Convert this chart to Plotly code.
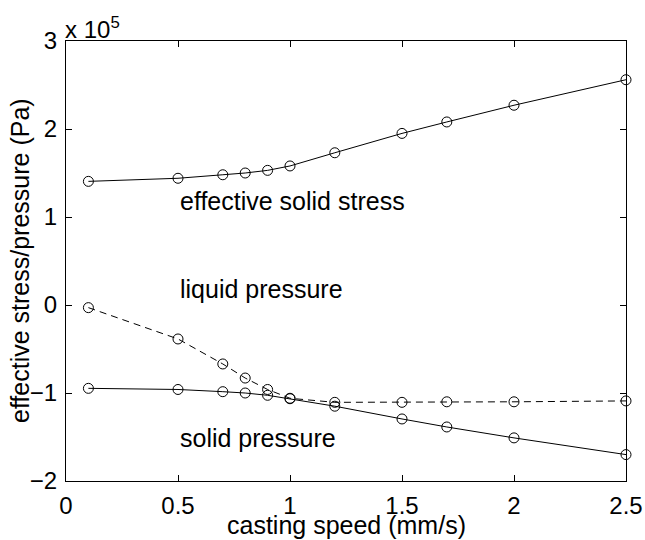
import plotly.graph_objects as go

speed = [0.1, 0.5, 0.7, 0.8, 0.9, 1.0, 1.2, 1.5, 1.7, 2.0, 2.5]
effective_solid_stress = [1.405e5, 1.44e5, 1.48e5, 1.50e5, 1.53e5, 1.58e5, 1.73e5, 1.95e5, 2.08e5, 2.27e5, 2.56e5]
liquid_pressure = [-0.03e5, -0.386e5, -0.67e5, -0.83e5, -0.96e5, -1.06e5, -1.106e5, -1.106e5, -1.10e5, -1.10e5, -1.09e5]
solid_pressure = [-0.947e5, -0.96e5, -0.985e5, -1.0e5, -1.026e5, -1.065e5, -1.15e5, -1.295e5, -1.386e5, -1.51e5, -1.70e5]

x_ticks = [0, 0.5, 1, 1.5, 2, 2.5]
x_tick_text = ["0", "0.5", "1", "1.5", "2", "2.5"]
y_ticks = [-2e5, -1e5, 0, 1e5, 2e5, 3e5]
y_tick_text = ["\u22122", "\u22121", "0", "1", "2", "3"]

labels = ["effective solid stress", "liquid pressure", "solid pressure"]
label_x = [0.5, 0.5, 0.5]
label_y = [1.18e5, 0.18e5, -1.51e5]

x_title = "casting speed (mm/s)"
y_title = "effective stress/pressure (Pa)"

FONT = "Liberation Sans, Arial, Helvetica, sans-serif"

fig = go.Figure()
marker = dict(symbol="circle-open", size=10, color="black", line=dict(width=1, color="black"))
fig.add_trace(go.Scatter(x=speed, y=effective_solid_stress, mode="lines+markers",
                         line=dict(color="black", width=1), marker=marker, cliponaxis=False))
fig.add_trace(go.Scatter(x=speed, y=liquid_pressure, mode="lines+markers",
                         line=dict(color="black", width=1, dash="7px,5px"), marker=marker, cliponaxis=False))
fig.add_trace(go.Scatter(x=speed, y=solid_pressure, mode="lines+markers",
                         line=dict(color="black", width=1), marker=marker, cliponaxis=False))

for t, xx, yy in zip(labels, label_x, label_y):
    fig.add_annotation(x=xx, y=yy, text=t, showarrow=False, xanchor="left", yanchor="middle",
                       font=dict(family=FONT, size=25, color="black"))

# exponent label
fig.add_annotation(xref="paper", yref="paper", x=0.0, y=1.0, xshift=-3, yshift=-4,
                   text="x 10<sup>5</sup>", showarrow=False, xanchor="left", yanchor="bottom",
                   font=dict(family=FONT, size=24, color="black"))

# axis titles
fig.add_annotation(xref="paper", yref="paper", x=0.5, y=-0.1, text=x_title, showarrow=False,
                   xanchor="center", yanchor="middle", font=dict(family=FONT, size=25, color="black"))
fig.add_annotation(xref="paper", yref="paper", x=-0.0821, y=0.5, text=y_title, showarrow=False,
                   textangle=-90, xanchor="center", yanchor="middle",
                   font=dict(family=FONT, size=25, color="black"))

axis_common = dict(showline=True, linecolor="black", linewidth=1, mirror="allticks",
                   ticks="inside", ticklen=6, tickcolor="black", showgrid=False, zeroline=False,
                   automargin=False, tickfont=dict(family=FONT, size=24, color="black"))

fig.update_xaxes(range=[0, 2.5], tickvals=x_ticks, ticktext=x_tick_text,
                 ticklabelstandoff=3, **axis_common)
fig.update_yaxes(range=[-2e5, 3e5], tickvals=y_ticks, ticktext=y_tick_text,
                 ticklabelstandoff=3, **axis_common)

fig.update_layout(width=645, height=540, margin=dict(l=66, r=19, t=41, b=59),
                  plot_bgcolor="white", paper_bgcolor="white", showlegend=False)

fig.write_html("out.html")
